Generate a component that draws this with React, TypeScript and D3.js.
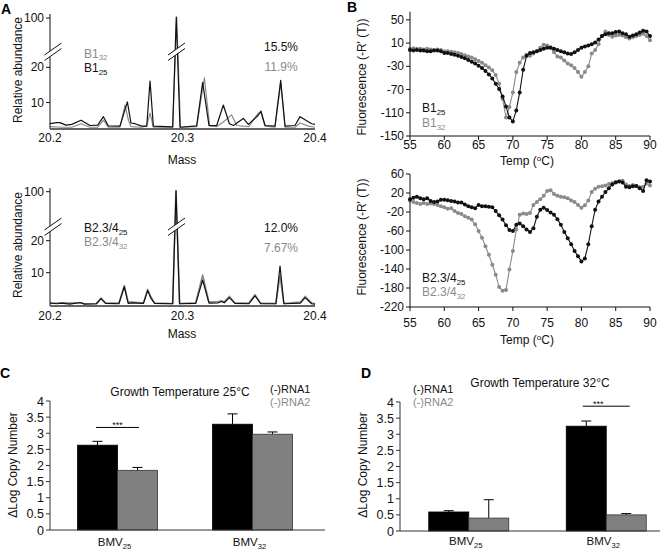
import React from "react";
import * as d3 from "d3";

const FONT = "'Liberation Sans', Arial, Helvetica, sans-serif";
const INK = "#111111";
const GREY = "#8a8a8a";
const BAR_GREY = "#808080";

// ---------- Panel A : mass spectra ----------
const massTicks = [20.2, 20.3, 20.4];
const abundanceTicks = [10, 20, 100];

const b1_25: [number, number][] = [
  [20.2, 4.0], [20.205, 4.3], [20.2075, 4.3], [20.212, 3.6], [20.2164, 3.8], [20.2234, 5.0],
  [20.2302, 3.5], [20.236, 3.6], [20.2403, 6.0], [20.244, 3.4], [20.2528, 3.3], [20.2584, 10.2],
  [20.2611, 4.2], [20.2642, 4.0], [20.2692, 3.3], [20.273, 3.3], [20.2755, 16.1], [20.278, 3.3],
  [20.2926, 3.1], [20.2953, 102], [20.2981, 3.0], [20.3107, 3.4], [20.3152, 15.7], [20.32, 3.5],
  [20.3258, 3.5], [20.3308, 9.3], [20.3354, 4.0], [20.3384, 3.5], [20.3459, 5.5], [20.3497, 3.8],
  [20.3572, 6.4], [20.3592, 7.6], [20.3623, 3.5], [20.3698, 3.3], [20.3741, 16.3], [20.3774, 3.3],
  [20.3849, 3.5], [20.3887, 6.0], [20.3975, 4.0], [20.4, 3.8],
];
const b1_32: [number, number][] = [
  [20.2, 3.2], [20.21, 3.0], [20.2164, 3.0], [20.2234, 4.0], [20.2302, 3.0], [20.236, 3.0],
  [20.2403, 5.0], [20.244, 3.0], [20.2528, 3.0], [20.2566, 9.3], [20.2592, 5.0], [20.2611, 3.2],
  [20.2692, 3.0], [20.273, 3.3], [20.2755, 7.0], [20.278, 3.0], [20.2926, 3.0], [20.2956, 102],
  [20.2985, 3.0], [20.3107, 3.2], [20.3165, 17.0], [20.3205, 3.3], [20.3258, 3.2], [20.3308, 4.5],
  [20.3371, 6.5], [20.3409, 3.5], [20.3459, 3.3], [20.35, 3.2], [20.3572, 7.0], [20.3592, 7.2],
  [20.3623, 3.3], [20.3698, 3.0], [20.3741, 15.5], [20.3774, 3.0], [20.385, 3.0], [20.3887, 4.2],
  [20.395, 3.3], [20.4, 3.0],
];
const b234_25: [number, number][] = [
  [20.2, 0.6], [20.205, 0.3], [20.2088, 0.5], [20.215, 0.2], [20.2227, 0.7], [20.226, 0.2],
  [20.235, 0.3], [20.2385, 1.9], [20.242, 0.4], [20.252, 0.3], [20.2561, 5.6], [20.259, 0.4],
  [20.262, 0.6], [20.2705, 0.4], [20.2737, 4.4], [20.2762, 2.0], [20.279, 0.4], [20.2926, 0.3],
  [20.2951, 102], [20.2978, 0.3], [20.31, 0.4], [20.3152, 7.7], [20.32, 0.5], [20.327, 0.6],
  [20.3296, 1.0], [20.3315, 0.6], [20.3354, 2.2], [20.3395, 0.4], [20.35, 0.3], [20.3547, 2.8],
  [20.359, 0.3], [20.3705, 0.3], [20.3736, 12.1], [20.3765, 0.3], [20.389, 0.5], [20.3925, 2.2],
  [20.3975, 0.3], [20.4, 0.2],
];
const b234_32: [number, number][] = [
  [20.2, 0.4], [20.21, 0.6], [20.215, 0.5], [20.2227, 0.6], [20.226, 0.3], [20.235, 0.3],
  [20.2385, 2.1], [20.242, 0.5], [20.252, 0.5], [20.2561, 6.0], [20.259, 0.8], [20.262, 0.8],
  [20.2705, 0.5], [20.2737, 4.8], [20.2762, 2.4], [20.279, 0.5], [20.2926, 0.4], [20.2951, 102],
  [20.2978, 0.4], [20.31, 0.6], [20.3152, 9.3], [20.32, 0.8], [20.327, 1.0], [20.3296, 1.2],
  [20.3315, 0.9], [20.3354, 2.6], [20.3395, 0.6], [20.35, 0.5], [20.3547, 3.1], [20.359, 0.5],
  [20.3705, 0.4], [20.3736, 9.0], [20.3765, 0.4], [20.389, 0.8], [20.3925, 2.6], [20.3975, 0.5],
  [20.4, 0.3],
];

// ---------- Panel B : melt curves ----------
const temps = [
  55, 55.5, 56, 56.5, 57, 57.5, 58, 58.5, 59, 59.5,
  60, 60.5, 61, 61.5, 62, 62.5, 63, 63.5, 64, 64.5,
  65, 65.5, 66, 66.5, 67, 67.5, 68, 68.5, 69, 69.5,
  70, 70.5, 71, 71.5, 72, 72.5, 73, 73.5, 74, 74.5,
  75, 75.5, 76, 76.5, 77, 77.5, 78, 78.5, 79, 79.5,
  80, 80.5, 81, 81.5, 82, 82.5, 83, 83.5, 84, 84.5,
  85, 85.5, 86, 86.5, 87, 87.5, 88, 88.5, 89, 89.5,
  90,
];
const tempTicks = [55, 60, 65, 70, 75, 80, 85, 90];
const meltTopTicks = [50, 10, -30, -70, -110, -150];
const meltBottomTicks = [60, 20, -20, -60, -100, -140, -180, -220];

const melt_b1_25 = [
  -2, -3, -2, -3, -3, -4, -4, -3, -3, -4,
  -7, -7, -9, -10, -12, -14, -16, -19, -22, -25,
  -29, -33, -38, -44, -51, -60, -69, -82, -99, -118,
  -125, -106, -75, -36, -12, -7, -6, -4, -2, 0,
  2, 2, 0, -2, -4, -6, -8, -9, -6, -2,
  2, 4, 6, 8, 11, 16, 22, 25, 27, 27,
  29, 30, 27, 25, 21, 23, 25, 28, 31, 30,
  22,
];
const melt_b1_32 = [
  0, 1, 0, 0, -1, 0, -1, -2, -1, -2,
  -4, -4, -5, -6, -7, -9, -11, -13, -15, -18,
  -21, -24, -28, -32, -37, -45, -60, -86, -118, -100,
  -75, -40, -24, -15, -10, -12, -8, -4, 2, 7,
  6, 3, -6, -13, -15, -20, -25, -28, -33, -40,
  -48, -40, -30, -8, -2, 8, 22, 30, 24, 21,
  23, 24, 23, 20, 18, 20, 22, 24, 26, 22,
  15,
];
const melt_b234_25 = [
  7, 10, 12, 9, 7, 9, 3, 1, 2, 6,
  6, 5, 3, 2, 0, 0, -4, -8, -10, -12,
  -5, -8, -8, -9, -10, -18, -27, -36, -48, -58,
  -60, -47, -44, -50, -57, -62, -54, -30, -15, -11,
  -16, -21, -26, -35, -47, -62, -75, -88, -102, -113,
  -124, -118, -88, -50, -15, 2, 12, 22, 30, 38,
  42, 44, 42, 33, 32, 34, 35, 30, 24, 47,
  44,
];
const melt_b234_32 = [
  4, 1, -1, -3, -1, -3, -2, -3, -5, -8,
  -10, -13, -12, -18, -22, -24, -29, -32, -36, -46,
  -60, -74, -92, -110, -131, -152, -178, -186, -184, -141,
  -102, -57, -26, -23, -24, -22, -5, 1, 7, 14,
  24, 26, 18, 14, 12, 11, 9, 4, 1, -5,
  -11, -6, 4, 22, 29, 33, 34, 36, 39, 41,
  43, 45, 46, 38, 35, 37, 35, 32, 33, 40,
  36,
];

// ---------- Panels C / D : bars ----------
const viruses = ["25", "32"];
const rnaSeries = ["(-)RNA1", "(-)RNA2"];
const copyTicks = [0, 0.5, 1, 1.5, 2, 2.5, 3, 3.5, 4];
const c_rna1 = [2.63, 3.28];
const c_rna1Err = [2.75, 3.6];
const c_rna2 = [1.85, 2.97];
const c_rna2Err = [1.94, 3.04];
const d_rna1 = [0.59, 3.25];
const d_rna1Err = [0.63, 3.41];
const d_rna2 = [0.4, 0.5];
const d_rna2Err = [0.97, 0.54];
const c_sig = { virus: "25", value: 3.18 };
const d_sig = { virus: "32", value: 3.87 };

function SubText(props: { x: number; y: number; base: string; sub: string; color: string; size?: number; anchor?: string }) {
  const s = props.size ?? 12;
  return (
    <text x={props.x} y={props.y} fill={props.color} fontSize={s} textAnchor={props.anchor ?? "start"}>
      {props.base}
      <tspan fontSize={s * 0.66} dy={2.5}>{props.sub}</tspan>
    </text>
  );
}

function BreakMark({ cx, cy }: { cx: number; cy: number }) {
  return (
    <g>
      <polygon
        points={`${cx - 8.5},${cy + 3} ${cx + 8.5},${cy - 9} ${cx + 8.5},${cy - 3.5} ${cx - 8.5},${cy + 8.5}`}
        fill="#fff"
      />
      <line x1={cx - 8.5} y1={cy + 3} x2={cx + 8.5} y2={cy - 9} stroke={INK} strokeWidth={1} />
      <line x1={cx - 8.5} y1={cy + 8.5} x2={cx + 8.5} y2={cy - 3.5} stroke={INK} strokeWidth={1} />
    </g>
  );
}

function MassPanel(p: {
  yDomain: number[]; yRange: number[]; axisTop: number;
  black: [number, number][]; gray: [number, number][];
  labels: { base: string; sub: string; color: string; y: number }[];
  pcts: { text: string; color: string; y: number }[];
  breakY: number; tickLabelY: number; titleY: number; yLabelY: number; grayWidth: number;
}) {
  const x = d3.scaleLinear().domain([20.2, 20.4]).range([50, 315]);
  const y = d3.scaleLinear().domain(p.yDomain).range(p.yRange);
  const line = d3.line<[number, number]>().x((d) => x(d[0])).y((d) => y(d[1]));
  const axisY = p.yRange[0];
  return (
    <g>
      <path d={line(p.gray) ?? ""} fill="none" stroke={GREY} strokeWidth={p.grayWidth} strokeLinejoin="round" />
      <path d={line(p.black) ?? ""} fill="none" stroke={INK} strokeWidth={1.2} strokeLinejoin="round" />
      <line x1={50} y1={p.axisTop} x2={50} y2={axisY} stroke={INK} strokeWidth={1} />
      <line x1={50} y1={axisY} x2={315} y2={axisY} stroke="#666" strokeWidth={2} />
      {abundanceTicks.map((t) => (
        <g key={t}>
          <line x1={46} x2={50} y1={y(t)} y2={y(t)} stroke={INK} />
          <text x={44} y={y(t) + 4} fontSize={12} textAnchor="end" fill={INK}>{t}</text>
        </g>
      ))}
      {massTicks.map((t) => (
        <text key={t} x={x(t)} y={p.tickLabelY} fontSize={12} textAnchor="middle" fill={INK}>{t.toFixed(1)}</text>
      ))}
      <text x={182} y={p.titleY} fontSize={12} textAnchor="middle" fill={INK}>Mass</text>
      <text transform={`translate(22,${p.yLabelY}) rotate(-90)`} fontSize={12} textAnchor="middle" fill={INK}>Relative abundance</text>
      <BreakMark cx={53} cy={p.breakY} />
      <BreakMark cx={176.5} cy={p.breakY} />
      {p.labels.map((l, i) => (
        <SubText key={i} x={84} y={l.y} base={l.base} sub={l.sub} color={l.color} />
      ))}
      {p.pcts.map((l, i) => (
        <text key={i} x={281} y={l.y} fontSize={12} textAnchor="middle" fill={l.color}>{l.text}</text>
      ))}
    </g>
  );
}

function MeltPanel(p: {
  yDomain: number[]; yRange: number[]; ticks: number[];
  black: number[]; gray: number[];
  labels: { base: string; sub: string; color: string; y: number }[];
  tickLabelY: number; titleY: number; yLabelY: number;
}) {
  const x = d3.scaleLinear().domain([55, 90]).range([410, 650]);
  const y = d3.scaleLinear().domain(p.yDomain).range(p.yRange);
  const line = d3.line<number>().x((_, i) => x(temps[i])).y((d) => y(d));
  const axisY = p.yRange[0];
  const series = [
    { v: p.gray, c: GREY },
    { v: p.black, c: INK },
  ];
  return (
    <g>
      {series.map((s, si) => (
        <g key={si}>
          <path d={line(s.v) ?? ""} fill="none" stroke={s.c} strokeWidth={1.1} />
          {s.v.map((d, i) => (
            <circle key={i} cx={x(temps[i])} cy={y(d)} r={2} fill={s.c} />
          ))}
        </g>
      ))}
      <line x1={410} y1={p.yRange[1]} x2={410} y2={axisY} stroke={INK} />
      <line x1={410} y1={axisY} x2={650} y2={axisY} stroke={INK} />
      {p.ticks.map((t) => (
        <g key={t}>
          <line x1={406} x2={410} y1={y(t)} y2={y(t)} stroke={INK} />
          <text x={404} y={y(t) + 4} fontSize={12} textAnchor="end" fill={INK}>{t}</text>
        </g>
      ))}
      {tempTicks.map((t) => (
        <g key={t}>
          <line x1={x(t)} x2={x(t)} y1={axisY} y2={axisY + 4} stroke={INK} />
          <text x={x(t)} y={p.tickLabelY} fontSize={12} textAnchor="middle" fill={INK}>{t}</text>
        </g>
      ))}
      <text x={527} y={p.titleY} fontSize={12} textAnchor="middle" fill={INK}>
        Temp (<tspan fontSize={8} dy={-4}>o</tspan><tspan dy={4}>C)</tspan>
      </text>
      <text transform={`translate(366,${p.yLabelY}) rotate(-90)`} fontSize={12} textAnchor="middle" fill={INK}>
        Fluorescence (-R' (T))
      </text>
      {p.labels.map((l, i) => (
        <SubText key={i} x={422} y={l.y} base={l.base} sub={l.sub} color={l.color} />
      ))}
    </g>
  );
}

function BarPanel(p: {
  x0: number; x1: number; axisEnd: number; zeroY: number; topY: number;
  rna1: number[]; rna1Err: number[]; rna2: number[]; rna2Err: number[];
  sig: { virus: string; value: number }; sigHalf: number; starDx: number;
  title: string; titleX: number; titleY: number;
  legendX: number; legendY: number; yLabelX: number; catY: number;
}) {
  const x = d3.scaleBand<string>().domain(viruses).range([p.x0, p.x1]);
  const y = d3.scaleLinear().domain([0, 4]).range([p.zeroY, p.topY]);
  const barW = 40;
  const inner = d3.scaleBand<string>().domain(rnaSeries).range([0, barW * 2]);
  const center = (v: string) => (x(v) ?? 0) + x.bandwidth() / 2;
  const groups = [
    { name: rnaSeries[0], vals: p.rna1, errs: p.rna1Err, fill: "#000", stroke: "#000" },
    { name: rnaSeries[1], vals: p.rna2, errs: p.rna2Err, fill: BAR_GREY, stroke: "#333" },
  ];
  const sc = center(p.sig.virus);
  return (
    <g>
      {groups.map((g) =>
        viruses.map((v, i) => {
          const bx = center(v) - barW + (inner(g.name) ?? 0);
          const cx = bx + barW / 2;
          return (
            <g key={g.name + v}>
              <line x1={cx} x2={cx} y1={y(g.vals[i])} y2={y(g.errs[i])} stroke="#000" strokeWidth={1} />
              <line x1={cx - 5} x2={cx + 5} y1={y(g.errs[i])} y2={y(g.errs[i])} stroke="#000" strokeWidth={1} />
              <rect x={bx} y={y(g.vals[i])} width={barW} height={p.zeroY - y(g.vals[i])} fill={g.fill} stroke={g.stroke} strokeWidth={0.8} />
            </g>
          );
        })
      )}
      <line x1={p.x0} y1={p.topY} x2={p.x0} y2={p.zeroY} stroke="#333" />
      <line x1={p.x0} y1={p.zeroY} x2={p.axisEnd} y2={p.zeroY} stroke="#333" />
      {copyTicks.map((t) => (
        <g key={t}>
          <line x1={p.x0 - 4} x2={p.x0} y1={y(t)} y2={y(t)} stroke="#333" />
          <text x={p.x0 - 6} y={y(t) + 4.5} fontSize={12.5} textAnchor="end" fill={INK}>{t}</text>
        </g>
      ))}
      {viruses.map((v) => (
        <SubText key={v} x={center(v) - 3} y={p.catY} base="BMV" sub={v} color={INK} anchor="middle" size={11.5} />
      ))}
      <line x1={sc - p.sigHalf} x2={sc + p.sigHalf} y1={y(p.sig.value)} y2={y(p.sig.value)} stroke="#000" />
      <text x={sc + p.starDx} y={y(p.sig.value) + 1} fontSize={9} textAnchor="middle" fill={INK}>***</text>
      <text x={p.titleX} y={p.titleY} fontSize={12} textAnchor="middle" fill={INK}>{p.title}</text>
      <text x={p.legendX} y={p.legendY} fontSize={11} fill={INK}>{rnaSeries[0]}</text>
      <text x={p.legendX} y={p.legendY + 12.5} fontSize={11} fill={GREY}>{rnaSeries[1]}</text>
      <text transform={`translate(${p.yLabelX},465) rotate(-90)`} fontSize={12} textAnchor="middle" fill={INK}>
        ΔLog Copy Number
      </text>
    </g>
  );
}

export default function App() {
  return (
    <svg width={660} height={550} style={{ position: "absolute", left: 0, top: 0, background: "#fff" }} fontFamily={FONT}>
      <rect width={660} height={550} fill="#fff" />
      <MassPanel
        yDomain={[2.5, 25, 100]} yRange={[129, 49.7, 18]} axisTop={14}
        black={b1_25} gray={b1_32} grayWidth={1.2}
        labels={[
          { base: "B1", sub: "32", color: GREY, y: 57.5 },
          { base: "B1", sub: "25", color: INK, y: 72 },
        ]}
        pcts={[
          { text: "15.5%", color: INK, y: 51 },
          { text: "11.9%", color: GREY, y: 71 },
        ]}
        breakY={52} tickLabelY={142} titleY={164} yLabelY={70}
      />
      <MassPanel
        yDomain={[-0.4, 25, 100]} yRange={[306, 224.7, 191.7]} axisTop={188}
        black={b234_25} gray={b234_32} grayWidth={1.6}
        labels={[
          { base: "B2.3/4", sub: "25", color: INK, y: 232 },
          { base: "B2.3/4", sub: "32", color: GREY, y: 246 },
        ]}
        pcts={[
          { text: "12.0%", color: INK, y: 232 },
          { text: "7.67%", color: GREY, y: 252 },
        ]}
        breakY={227} tickLabelY={320} titleY={338} yLabelY={245}
      />
      <MeltPanel
        yDomain={[-150, 64]} yRange={[136, 11.7]} ticks={meltTopTicks}
        black={melt_b1_25} gray={melt_b1_32}
        labels={[
          { base: "B1", sub: "25", color: INK, y: 112 },
          { base: "B1", sub: "32", color: GREY, y: 127 },
        ]}
        tickLabelY={149} titleY={165} yLabelY={77}
      />
      <MeltPanel
        yDomain={[-220, 60]} yRange={[307, 174]} ticks={meltBottomTicks}
        black={melt_b234_25} gray={melt_b234_32}
        labels={[
          { base: "B2.3/4", sub: "25", color: INK, y: 282 },
          { base: "B2.3/4", sub: "32", color: GREY, y: 296 },
        ]}
        tickLabelY={327} titleY={344} yLabelY={237}
      />
      <BarPanel
        x0={50} x1={320} axisEnd={325} zeroY={530} topY={401}
        rna1={c_rna1} rna1Err={c_rna1Err} rna2={c_rna2} rna2Err={c_rna2Err}
        sig={c_sig} sigHalf={21.5} starDx={0}
        title="Growth Temperature 25°C" titleX={180} titleY={396}
        legendX={270} legendY={393} yLabelX={17} catY={546}
      />
      <BarPanel
        x0={400} x1={675} axisEnd={660} zeroY={531} topY={402}
        rna1={d_rna1} rna1Err={d_rna1Err} rna2={d_rna2} rna2Err={d_rna2Err}
        sig={d_sig} sigHalf={23.5} starDx={-8}
        title="Growth Temperature 32°C" titleX={540} titleY={387}
        legendX={413} legendY={393} yLabelX={367} catY={545}
      />
      <g fontWeight="bold" fontSize={14} fill="#000">
        <text x={1} y={14}>A</text>
        <text x={347} y={12}>B</text>
        <text x={0} y={378}>C</text>
        <text x={361} y={378}>D</text>
      </g>
    </svg>
  );
}
